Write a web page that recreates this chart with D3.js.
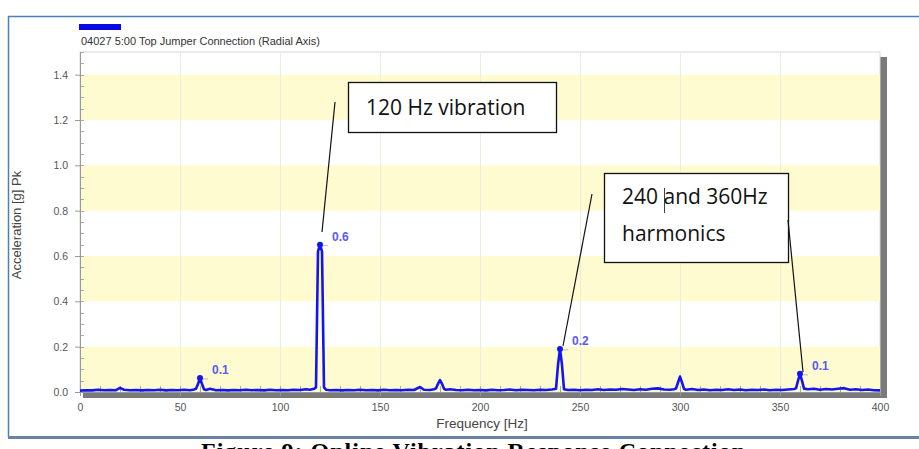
<!DOCTYPE html>
<html><head><meta charset="utf-8">
<script src="https://cdn.jsdelivr.net/npm/d3@7/dist/d3.min.js"></script>
<style>html,body{margin:0;padding:0;background:#fff;}svg{display:block;}</style>
</head><body>
<svg id="c" width="919" height="449"></svg>
<script>
// ---------- data ----------
const chartTitle = "04027 5:00 Top Jumper Connection (Radial Axis)";
const xTicks = [0,50,100,150,200,250,300,350,400];
const yTicks = [0.0,0.2,0.4,0.6,0.8,1.0,1.2,1.4];
const freqHz = [0,3,6,9,12,15,18,20,22,25,28,31,34,37,40,43,46,49,52,55,57,58,59,60,61,62,63,65,68,71,74,77,80,83,86,89,92,95,98,101,104,107,110,113,115,117,118,119,120,121,122,123,125,128,131,134,137,140,143,146,149,152,155,158,161,164,167,170,172,175,177,178,179,180,181,182,183,185,188,191,194,197,200,203,206,209,212,215,218,221,224,227,230,233,236,238,239,240,241,242,244,247,250,253,256,259,262,265,268,271,274,277,280,283,286,289,292,295,297,298,299,300,301,302,303,306,309,312,315,318,321,324,327,330,333,336,339,342,345,348,351,354,357,358,359,360,361,362,364,367,370,373,376,379,382,385,388,391,394,397,400];
const accelG = [0.006,0.008,0.007,0.010,0.008,0.009,0.008,0.018,0.010,0.008,0.009,0.007,0.009,0.008,0.010,0.007,0.009,0.008,0.010,0.008,0.011,0.014,0.035,0.062,0.035,0.012,0.009,0.014,0.008,0.009,0.007,0.009,0.008,0.010,0.008,0.009,0.007,0.010,0.008,0.009,0.008,0.010,0.009,0.012,0.010,0.014,0.020,0.620,0.650,0.620,0.020,0.010,0.008,0.009,0.007,0.009,0.008,0.010,0.008,0.009,0.007,0.010,0.008,0.009,0.008,0.010,0.009,0.022,0.010,0.009,0.012,0.016,0.036,0.052,0.036,0.014,0.010,0.012,0.009,0.008,0.010,0.008,0.009,0.007,0.010,0.008,0.009,0.011,0.008,0.010,0.009,0.008,0.010,0.009,0.011,0.014,0.120,0.190,0.120,0.012,0.009,0.010,0.008,0.010,0.009,0.012,0.009,0.011,0.010,0.013,0.011,0.009,0.012,0.010,0.014,0.016,0.011,0.010,0.012,0.015,0.042,0.068,0.042,0.014,0.010,0.013,0.009,0.011,0.008,0.010,0.009,0.012,0.009,0.011,0.008,0.010,0.009,0.011,0.008,0.010,0.009,0.011,0.013,0.016,0.050,0.080,0.050,0.015,0.012,0.014,0.010,0.013,0.011,0.014,0.017,0.010,0.012,0.009,0.011,0.008,0.007];
const peakHz = [60,120,240,360];
const peakG = [0.062,0.650,0.190,0.080];
const peakLabels = ["0.1","0.6","0.2","0.1"];
const note1 = ["120 Hz vibration"];
const note2 = ["240 and 360Hz","harmonics"];
const caption = "Figure 9: Online Vibration Response Connection";

// ---------- layout ----------
const svg = d3.select("#c");
const L = 80, R = 880, T = 52, B = 392;
const x = d3.scaleLinear().domain([0,400]).range([L,R]);
const y = d3.scaleLinear().domain([0,1.5]).range([B,T]);
const sans = "Liberation Sans, Arial, sans-serif";

// outer frame
svg.append("line").attr("x1",8).attr("x2",919).attr("y1",16.5).attr("y2",16.5).attr("stroke","#4a7fb8").attr("stroke-width",1.5);
svg.append("line").attr("x1",8.5).attr("x2",8.5).attr("y1",16).attr("y2",437).attr("stroke","#4a7fb8").attr("stroke-width",1.5);
svg.append("line").attr("x1",8).attr("x2",919).attr("y1",437.5).attr("y2",437.5).attr("stroke","#6883a3").attr("stroke-width",3);

// legend swatch + title
svg.append("rect").attr("x",79).attr("y",24).attr("width",42).attr("height",6).attr("fill","#0a0ae0");
svg.append("text").attr("x",81).attr("y",45).attr("font-family",sans).attr("font-size",11).attr("fill","#333").text(chartTitle);

// shadow
svg.append("rect").attr("x",L+3).attr("y",T+5).attr("width",R-L+4).attr("height",B-T+1).attr("fill","#7a7a7a");
// plot background
svg.append("rect").attr("x",L).attr("y",T).attr("width",R-L).attr("height",B-T).attr("fill","#fff").attr("stroke","#d8d8d8").attr("stroke-width",1);
// bands
const bands = [[0,0.2],[0.4,0.6],[0.8,1.0],[1.2,1.4]];
svg.selectAll("rect.band").data(bands).enter().append("rect").attr("class","band")
  .attr("x",L+1).attr("width",R-L-1).attr("y",d=>y(d[1])).attr("height",d=>y(d[0])-y(d[1])).attr("fill","#fdfbcf");
// vertical faint grid
svg.selectAll("line.vg").data(xTicks.slice(1,-1)).enter().append("line").attr("class","vg")
  .attr("x1",d=>x(d)+0.5).attr("x2",d=>x(d)+0.5).attr("y1",T).attr("y2",B).attr("stroke","#ecebdc").attr("stroke-width",1);

// minor ticks inside
const yMinor = d3.range(0,1.51,0.05);
svg.selectAll("line.ym").data(yMinor).enter().append("line").attr("class","ym")
  .attr("x1",L).attr("x2",L+4).attr("y1",d=>Math.round(y(d))+0.5).attr("y2",d=>Math.round(y(d))+0.5).attr("stroke","#aaa");
const xMinor = d3.range(10,400,10);
svg.selectAll("line.xm").data(xMinor).enter().append("line").attr("class","xm")
  .attr("x1",d=>x(d)+0.5).attr("x2",d=>x(d)+0.5).attr("y1",B-6).attr("y2",B).attr("stroke","#aaa");

// axes
const yAxis = svg.append("g").attr("transform",`translate(${L},0)`)
  .call(d3.axisLeft(y).tickValues(yTicks).tickFormat(d3.format(".1f")).tickSize(5).tickPadding(7).tickSizeOuter(0));
const xAxis = svg.append("g").attr("transform",`translate(0,${B})`)
  .call(d3.axisBottom(x).tickValues(xTicks).tickSize(4).tickSizeOuter(0));
[yAxis,xAxis].forEach(g=>{
  g.select(".domain").attr("stroke","#999");
  g.selectAll(".tick line").attr("stroke","#999");
  g.selectAll("text").attr("font-family",sans).attr("font-size",10.5).attr("fill","#555");
});
xAxis.selectAll("text").attr("dy","1.15em");

// axis titles
svg.append("text").attr("x",482).attr("y",428).attr("text-anchor","middle").attr("font-family",sans).attr("font-size",13.5).attr("fill","#444").text("Frequency [Hz]");
svg.append("text").attr("transform","translate(21,225) rotate(-90)").attr("text-anchor","middle").attr("font-family",sans).attr("font-size",13).attr("fill","#444").text("Acceleration [g] Pk");

// spectrum line
const pts = freqHz.map((f,i)=>[f,accelG[i]]);
svg.append("path").datum(pts).attr("fill","none").attr("stroke","#1414ee").attr("stroke-width",2.6).attr("stroke-linejoin","round")
  .attr("d",d3.line().x(d=>x(d[0])).y(d=>y(d[1])));

// peak markers + labels
peakHz.forEach((f,i)=>{
  const px = x(f), py = y(peakG[i]);
  svg.append("line").attr("x1",px+3).attr("x2",px+8).attr("y1",py+1).attr("y2",py+1).attr("stroke","#bbb");
  svg.append("circle").attr("cx",px).attr("cy",py).attr("r",3).attr("fill","#1414ee");
  svg.append("text").attr("x",px+12).attr("y",py-4).attr("font-family",sans).attr("font-size",12).attr("font-weight","bold").attr("fill","#5a5aee").text(peakLabels[i]);
});

// annotation boxes
const noteFont = "'Open Sans', 'Noto Sans', sans-serif";
svg.append("rect").attr("x",348.5).attr("y",82.5).attr("width",208).attr("height",50).attr("fill","#fff").attr("stroke","#111").attr("stroke-width",1.3);
svg.append("text").attr("x",366).attr("y",115).attr("font-family",noteFont).attr("font-size",21).attr("fill","#111").text(note1[0]);
svg.append("line").attr("x1",335).attr("y1",102).attr("x2",322).attr("y2",232).attr("stroke","#111").attr("stroke-width",1.2);

svg.append("rect").attr("x",604.5).attr("y",173.5).attr("width",184).attr("height",89).attr("fill","#fff").attr("stroke","#111").attr("stroke-width",1.3);
svg.append("text").attr("x",622).attr("y",204).attr("font-family",noteFont).attr("font-size",21).attr("fill","#111").text(note2[0]);
svg.append("text").attr("x",622).attr("y",241).attr("font-family",noteFont).attr("font-size",21).attr("fill","#111").text(note2[1]);
svg.append("line").attr("x1",664.5).attr("x2",664.5).attr("y1",188).attr("y2",213).attr("stroke","#111").attr("stroke-width",0.8);
svg.append("line").attr("x1",592).attr("y1",194).attr("x2",563).attr("y2",346).attr("stroke","#111").attr("stroke-width",1.2);
svg.append("line").attr("x1",788).attr("y1",220).attr("x2",803).attr("y2",372).attr("stroke","#111").attr("stroke-width",1.2);

// caption (cut off at bottom, as in the reference)
svg.append("text").attr("x",201).attr("y",459).attr("font-family","Liberation Serif, Times New Roman, serif").attr("font-size",24).attr("font-weight","bold").attr("fill","#000")
  .attr("textLength",544).attr("lengthAdjust","spacing").text(caption);
</script>
</body></html>
